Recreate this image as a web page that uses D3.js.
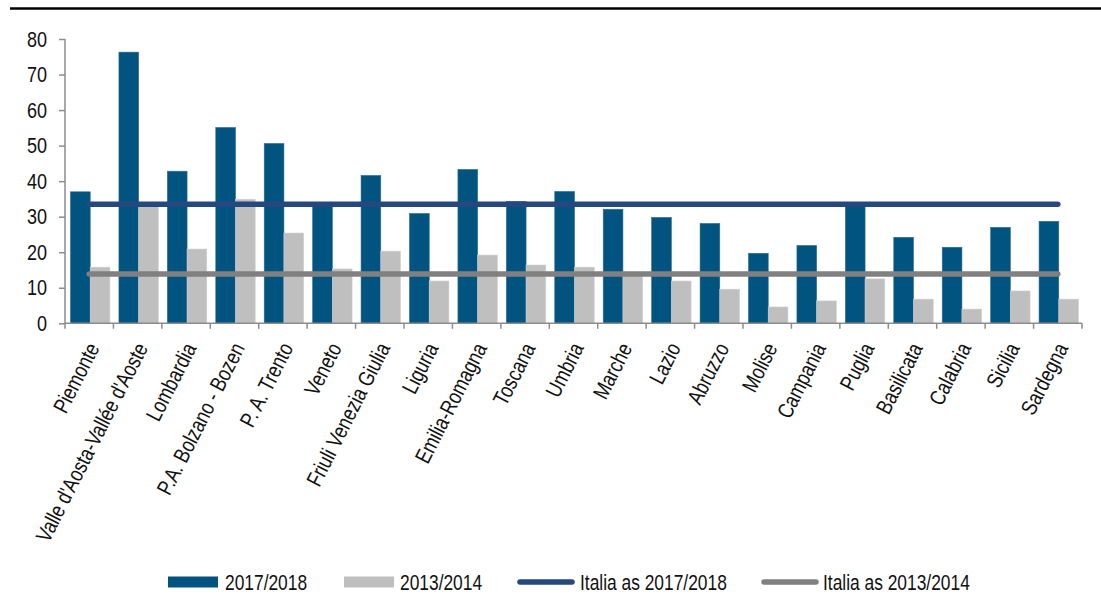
<!DOCTYPE html>
<html>
<head>
<meta charset="utf-8">
<script src="https://cdn.jsdelivr.net/npm/d3@7"></script>
<style>
  html, body { margin: 0; padding: 0; background: #fff; }
  svg { display: block; }
</style>
</head>
<body>
<script>
// ---- Data ----
const regions = ["Piemonte", "Valle d'Aosta-Vallée d'Aoste", "Lombardia", "P.A. Bolzano - Bozen", "P. A. Trento",
  "Veneto", "Friuli Venezia Giulia", "Liguria", "Emilia-Romagna", "Toscana", "Umbria", "Marche", "Lazio",
  "Abruzzo", "Molise", "Campania", "Puglia", "Basilicata", "Calabria", "Sicilia", "Sardegna"];
const values2017 = [37.0, 76.3, 42.8, 55.1, 50.6, 32.8, 41.6, 30.9, 43.3, 34.3, 37.1, 32.1, 29.8, 28.1, 19.7, 21.9, 33.0, 24.2, 21.4, 27.0, 28.7];
const values2013 = [15.8, 33.0, 20.9, 34.9, 25.4, 15.3, 20.3, 11.9, 19.2, 16.4, 15.8, 14.0, 11.9, 9.6, 4.6, 6.3, 12.5, 6.8, 4.0, 9.1, 6.8];
const italia2017 = 33.5;
const italia2013 = 13.9;
const yTicks = [0, 10, 20, 30, 40, 50, 60, 70, 80];
const seriesNames = ["2017/2018", "2013/2014", "Italia as 2017/2018", "Italia as 2013/2014"];

// ---- Style ----
const W = 1101, H = 612;
const C_BLUE = "#00547f", C_GRAY = "#bfbfbf", C_LBLUE = "#25497f", C_LGRAY = "#808080", C_AXIS = "#8c8c8c";
const FONT = '"Liberation Sans", Arial, sans-serif';
const FS = 22;
const SX_AXIS = 0.82, SX_LABEL = 0.81, SX_LEG = 0.79;  // horizontal condensing to mimic a narrow face
const TXT = "#111";

const x0 = 65, x1 = 1082, yTop = 39, yBot = 323.3;

const svg = d3.select("body").append("svg").attr("width", W).attr("height", H)
  .style("font-family", FONT);

// top rule
svg.append("line").attr("x1", 10).attr("x2", W).attr("y1", 8.5).attr("y2", 8.5)
  .attr("stroke", "#000").attr("stroke-width", 2.5);

const x = d3.scaleBand().domain(regions).range([x0, x1]).paddingInner(0).paddingOuter(0);
const xs = d3.scaleBand().domain(["a", "b"]).range([5.5, x.bandwidth() - 3.5]).padding(0);
const y = d3.scaleLinear().domain([0, 80]).range([yBot, yTop]);

// bars
const groups = svg.append("g").selectAll("g.cat").data(regions).join("g")
  .attr("transform", d => `translate(${x(d)},0)`);
groups.append("rect")
  .attr("x", xs("a")).attr("width", xs.bandwidth())
  .attr("y", (d, i) => y(values2017[i])).attr("height", (d, i) => y(0) - y(values2017[i]))
  .attr("fill", C_BLUE).attr("stroke", "#2c6d96").attr("stroke-width", 0.6);
groups.append("rect")
  .attr("x", xs("b")).attr("width", xs.bandwidth())
  .attr("y", (d, i) => y(values2013[i])).attr("height", (d, i) => y(0) - y(values2013[i]))
  .attr("fill", C_GRAY).attr("stroke", "#d0d0d0").attr("stroke-width", 0.6);

// y axis
const yAxis = d3.axisLeft(y).tickValues(yTicks).tickSize(6).tickPadding(12).tickFormat(d3.format("d"));
const ya = svg.append("g").attr("transform", `translate(${x0},0)`).call(yAxis);
ya.select(".domain").attr("stroke", C_AXIS).attr("stroke-width", 1.5).attr("d", `M0,${yTop}V${yBot}`);
ya.selectAll(".tick line").attr("stroke", C_AXIS).attr("stroke-width", 1.5);
ya.selectAll(".tick text").attr("fill", TXT).style("font-size", FS + "px").style("font-family", FONT)
  .attr("x", -18 / SX_AXIS).attr("transform", `scale(${SX_AXIS},1)`);

// x axis
const xa = svg.append("g").attr("transform", `translate(0,${yBot})`);
xa.append("line").attr("x1", x0).attr("x2", x1).attr("stroke", C_AXIS).attr("stroke-width", 1.5);
const tickPos = regions.map(r => x(r)).concat([x1]);
xa.selectAll("line.t").data(tickPos).join("line").attr("class", "t")
  .attr("x1", d => d).attr("x2", d => d).attr("y1", 0).attr("y2", 5.5)
  .attr("stroke", C_AXIS).attr("stroke-width", 1.5);

// x labels
svg.append("g").selectAll("text").data(regions).join("text")
  .attr("transform", d => `translate(${x(d) + x.bandwidth() / 2 + 4},${yBot + 21}) rotate(-63) scale(${SX_LABEL},1)`)
  .attr("text-anchor", "end").attr("dy", "0.35em")
  .style("font-size", FS + "px").attr("fill", TXT)
  .text(d => d);

// Italia lines
const lineGen = d3.line().x(d => x(d[0]) + x.bandwidth() / 2).y(d => y(d[1]));
const first = regions[0], last = regions[regions.length - 1];
svg.append("path").datum([[first, italia2013], [last, italia2013]]).attr("d", lineGen)
  .attr("stroke", C_LGRAY).attr("stroke-width", 5.5).attr("stroke-linecap", "round").attr("fill", "none");
svg.append("path").datum([[first, italia2017], [last, italia2017]]).attr("d", lineGen)
  .attr("stroke", C_LBLUE).attr("stroke-width", 5.5).attr("stroke-linecap", "round").attr("fill", "none");

// legend
const legendY = 582;
const lg = svg.append("g");
const legendItems = [
  { name: seriesNames[0], type: "rect", color: C_BLUE, x: 168, tx: 225 },
  { name: seriesNames[1], type: "rect", color: C_GRAY, x: 344, tx: 400 },
  { name: seriesNames[2], type: "line", color: C_LBLUE, x: 517, tx: 580 },
  { name: seriesNames[3], type: "line", color: C_LGRAY, x: 761, tx: 823 }
];
legendItems.forEach(it => {
  if (it.type === "rect") {
    lg.append("rect").attr("x", it.x).attr("y", legendY - 5.5).attr("width", 50).attr("height", 11).attr("fill", it.color);
  } else {
    lg.append("line").attr("x1", it.x + 3).attr("x2", it.x + 55).attr("y1", legendY).attr("y2", legendY)
      .attr("stroke", it.color).attr("stroke-width", 5.5).attr("stroke-linecap", "round");
  }
  lg.append("text").attr("transform", `translate(${it.tx},${legendY}) scale(${SX_LEG},1)`)
    .attr("dy", "0.36em").style("font-size", FS + "px").attr("fill", TXT).text(it.name);
});
</script>
</body>
</html>
